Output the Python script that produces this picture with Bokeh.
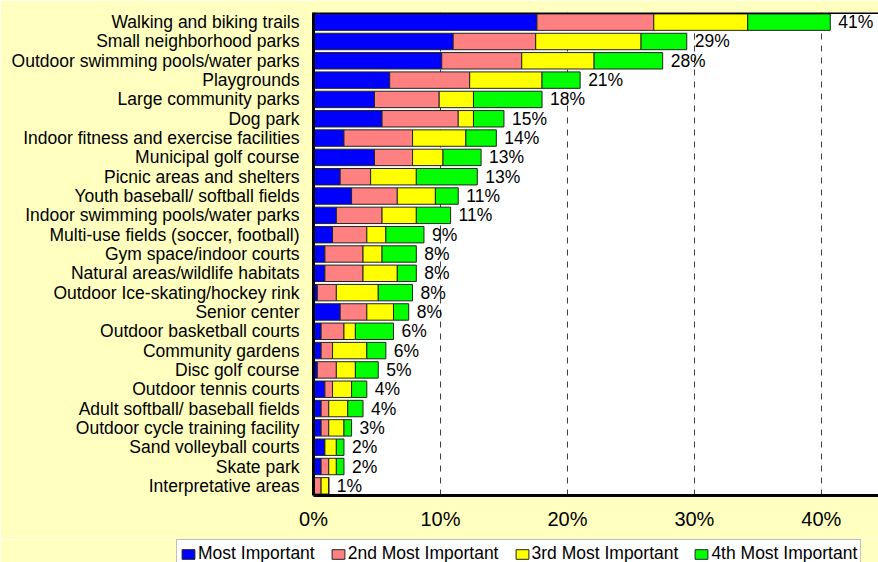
from bokeh.plotting import figure
from bokeh.models import FactorRange, Range1d, FixedTicker, ColumnDataSource, Span, Legend, LegendItem
from bokeh.core.properties import value
from bokeh.embed import file_html
from bokeh.resources import INLINE

categories = [
    "Walking and biking trails",
    "Small neighborhood parks",
    "Outdoor swimming pools/water parks",
    "Playgrounds",
    "Large community parks",
    "Dog park",
    "Indoor fitness and exercise facilities",
    "Municipal golf course",
    "Picnic areas and shelters",
    "Youth baseball/ softball fields",
    "Indoor swimming pools/water parks",
    "Multi-use fields (soccer, football)",
    "Gym space/indoor courts",
    "Natural areas/wildlife habitats",
    "Outdoor Ice-skating/hockey rink",
    "Senior center",
    "Outdoor basketball courts",
    "Community gardens",
    "Disc golf course",
    "Outdoor tennis courts",
    "Adult softball/ baseball fields",
    "Outdoor cycle training facility",
    "Sand volleyball courts",
    "Skate park",
    "Interpretative areas",
]
most_important = [17.6, 11.0, 10.1, 6.0, 4.8, 5.4, 2.4, 4.8, 2.1, 3.0, 1.8, 1.5, 0.9, 0.9, 0.3, 2.1, 0.6, 0.6, 0.3, 0.9, 0.6, 0.6, 0.9, 0.6, 0.0]
second_most = [9.2, 6.5, 6.3, 6.3, 5.1, 6.0, 5.4, 3.0, 2.4, 3.6, 3.6, 2.7, 3.0, 3.0, 1.5, 2.1, 1.8, 0.9, 1.5, 0.6, 0.6, 0.6, 0.0, 0.6, 0.6]
third_most = [7.4, 8.3, 5.7, 5.7, 2.7, 1.2, 4.2, 2.4, 3.6, 3.0, 2.7, 1.5, 1.5, 2.7, 3.3, 2.1, 0.9, 2.7, 1.5, 1.5, 1.5, 1.2, 0.9, 0.6, 0.6]
fourth_most = [6.5, 3.6, 5.4, 3.0, 5.4, 2.4, 2.4, 3.0, 4.8, 1.8, 2.7, 3.0, 2.7, 1.5, 2.7, 1.2, 3.0, 1.5, 1.8, 1.2, 1.2, 0.6, 0.6, 0.6, 0.0]
total_labels = ["41%", "29%", "28%", "21%", "18%", "15%", "14%", "13%", "13%", "11%", "11%", "9%",
                "8%", "8%", "8%", "8%", "6%", "6%", "5%", "4%", "4%", "3%", "2%", "2%", "1%"]
series_names = ["Most Important", "2nd Most Important", "3rd Most Important", "4th Most Important"]
series_colors = ["#0000FF", "#FF8080", "#FFFF00", "#00FF00"]
tick_values = [0, 10, 20, 30, 40]
tick_labels = ["0%", "10%", "20%", "30%", "40%"]

FONT = "Liberation Sans"
FS = "17.5px"
BG = "#FFFFC0"
EDGE = "#222222"

keys = ["s1", "s2", "s3", "s4"]
data = dict(cat=categories, s1=most_important, s2=second_most, s3=third_most, s4=fourth_most)
src = ColumnDataSource(data)

totals = [a + b + c + d for a, b, c, d in zip(most_important, second_most, third_most, fourth_most)]
lab_src = ColumnDataSource(dict(cat=categories, total=totals, label=total_labels))

p = figure(
    width=878, height=539,
    y_range=FactorRange(factors=list(reversed(categories)), range_padding=0),
    x_range=Range1d(0, 44.5),
    output_backend="svg", toolbar_location=None,
    min_border_left=313, min_border_right=0, min_border_top=12, min_border_bottom=44,
)
p.background_fill_color = "white"
p.border_fill_color = BG
p.outline_line_color = None

renderers = p.hbar_stack(keys, y="cat", height=0.85, source=src,
                         fill_color=series_colors, line_color=EDGE, line_width=1)

p.text(x="total", y="cat", text="label", source=lab_src, x_offset=8,
       text_baseline="middle", text_align="left", text_font=value(FONT),
       text_font_size=FS, text_color="black")

# axes
p.xaxis.ticker = FixedTicker(ticks=tick_values)
p.xaxis.major_label_overrides = {v: l for v, l in zip(tick_values, tick_labels)}
p.xaxis.major_label_text_font = FONT
p.xaxis.major_label_text_font_size = "20px"
p.xaxis.major_label_text_color = "black"
p.xaxis.major_tick_out = 0
p.xaxis.major_tick_in = 0
p.xaxis.minor_tick_out = 0
p.xaxis.minor_tick_in = 0
p.xaxis.major_label_standoff = 12
p.xaxis.axis_line_color = "black"
p.xaxis.axis_line_width = 3

p.yaxis.major_label_text_font = FONT
p.yaxis.major_label_text_font_size = FS
p.yaxis.major_label_text_color = "black"
p.yaxis.major_tick_out = 0
p.yaxis.major_tick_in = 0
p.yaxis.major_label_standoff = 14
p.yaxis.axis_line_color = "black"
p.yaxis.axis_line_width = 3

p.ygrid.grid_line_color = None
p.xgrid.ticker = FixedTicker(ticks=tick_values)
p.xgrid.grid_line_color = "#404040"
p.xgrid.grid_line_dash = "6 6"
p.xgrid.grid_line_width = 1

top_border = Span(location=len(categories), dimension="width", line_color="black", line_width=3)
p.add_layout(top_border)

# legend strip below the chart (separate root, its bars sit outside its visible range)
lg = figure(
    width=878, height=23,
    x_range=Range1d(-2, -1),
    y_range=FactorRange(factors=list(reversed(categories))),
    output_backend="svg", toolbar_location=None,
    x_axis_location=None, y_axis_location=None,
    min_border_left=176, min_border_right=0, min_border_top=0, min_border_bottom=0,
)
lg.background_fill_color = BG
lg.border_fill_color = BG
lg.outline_line_color = None
lg.grid.visible = False
proxies = lg.hbar_stack(keys, y="cat", height=0.85, source=src,
                        fill_color=series_colors, line_color=EDGE, line_width=1)

leg = Legend(items=[LegendItem(label=n, renderers=[r]) for n, r in zip(series_names, proxies)])
leg.orientation = "horizontal"
leg.location = "top_left"
leg.label_text_font = FONT
leg.label_text_font_size = FS
leg.label_text_color = "black"
leg.glyph_width = 16
leg.glyph_height = 12
leg.label_standoff = 2
leg.spacing = 15
leg.padding = 3
leg.margin = 0
leg.border_line_color = "#808080"
leg.border_line_width = 1
leg.background_fill_color = "white"
leg.background_fill_alpha = 1.0
lg.add_layout(leg, "center")

html = file_html([p, lg], INLINE)
html = html.replace("<body>", '<body style="background:%s">' % BG, 1)
open("out.html", "w").write(html)
